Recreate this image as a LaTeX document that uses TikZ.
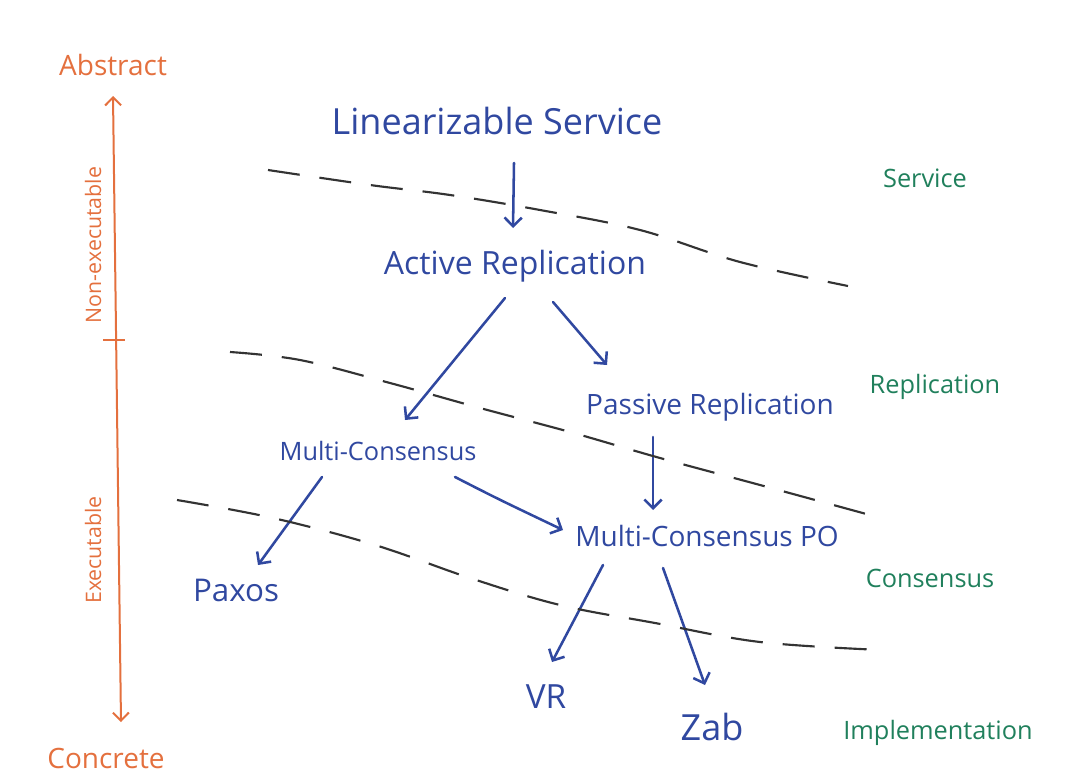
\documentclass[tikz,border=0pt]{standalone}
\usepackage{fontspec}
\setmainfont{Open Sans}
\usetikzlibrary{arrows.meta,calc}
\definecolor{inkblue}{RGB}{48,72,160}
\definecolor{inkorange}{RGB}{228,112,62}
\definecolor{inkgreen}{RGB}{32,128,92}
\tikzset{
  concept/.style={text=inkblue,inner sep=1pt},
  layer/.style={text=inkgreen,inner sep=1pt,font=\fontsize{19}{21}\selectfont},
  axislabel/.style={text=inkorange,inner sep=1pt,font=\fontsize{21}{23}\selectfont},
  sidelabel/.style={text=inkorange,inner sep=1pt,font=\fontsize{16}{18}\selectfont,rotate=90},
  link/.style={draw=inkblue,line width=1.9pt,line cap=round,-{Straight Barb[length=6.5pt,width=13pt]}},
  border/.style={draw=black!80,line width=1.6pt,dash pattern=on 24pt off 15pt}
}
\begin{document}
\begin{tikzpicture}[x=0.75pt,y=-0.75pt]
\useasboundingbox (0,0) rectangle (1080,774);
% axis
\node[axislabel] (abs) at (113,65) {Abstract};
\node[axislabel] (con) at (106,758) {Concrete};
\coordinate (axtop) at (113,96);
\coordinate (axbot) at (121,722);
\coordinate (tickl) at (103,340);
\coordinate (tickr) at (125,340);
\draw[draw=inkorange,line width=1.5pt,{Straight Barb[length=6pt,width=12pt]}-{Straight Barb[length=6pt,width=12pt]}] (axtop) -- (axbot);
\draw[draw=inkorange,line width=1.5pt] (tickl) -- (tickr);
\node[sidelabel] (nonex) at (93,245) {Non-executable};
\node[sidelabel] (ex) at (93,550) {Executable};
% concepts
\node[concept,font=\fontsize{27}{29}\selectfont] (ls) at (497,121) {Linearizable Service};
\node[concept,font=\fontsize{24}{26}\selectfont] (ar) at (515,266) {Active Replication};
\node[concept,font=\fontsize{21}{23}\selectfont] (pr) at (710,407) {Passive Replication};
\node[concept,font=\fontsize{19}{21}\selectfont] (mc) at (378,451) {Multi-Consensus};
\node[concept,font=\fontsize{21}{23}\selectfont] (mcpo) at (707,536) {Multi-Consensus PO};
\node[concept,font=\fontsize{23.5}{25}\selectfont] (paxos) at (236,590) {Paxos};
\node[concept,font=\fontsize{25}{27}\selectfont] (vr) at (546,697) {VR};
\node[concept,font=\fontsize{27}{29}\selectfont] (zab) at (712,727) {Zab};
% links
\draw[link] ($(ls)+(17,42)$) -- ($(ar)+(-2,-38)$);
\draw[link] ($(ar)+(-10,32)$) -- ($(mc)+(27,-31)$);
\draw[link] ($(ar)+(38,36)$) -- ($(pr)+(-103,-42)$);
\draw[link] ($(pr)+(-57,30)$) -- ($(mcpo)+(-54,-26)$);
\draw[link] ($(mc)+(77,26)$) .. controls ($(mc)+(120,48)$) .. ($(mcpo)+(-144,-6)$);
\draw[link] ($(mc)+(-56,26)$) -- ($(paxos)+(22,-25)$);
\draw[link] ($(mcpo)+(-104,29)$) -- ($(vr)+(6,-35)$);
\draw[link] ($(mcpo)+(-44,32)$) -- ($(zab)+(-7,-42)$);
% layer boundaries
\coordinate (d1a) at (268,170);
\coordinate (d1b) at (848,286);
\coordinate (d2a) at (230,352);
\coordinate (d2b) at (870,515);
\coordinate (d3a) at (177,500);
\coordinate (d3b) at (882,650);
\draw[border] plot[smooth,tension=0.6] coordinates {(d1a) (370,185) (450,195) (540,210) (640,230) (740,262) (d1b)};
\draw[border] plot[smooth,tension=0.6] coordinates {(d2a) (300,360) (390,383) (480,408) (570,432) (660,458) (760,485) (d2b)};
\draw[border] plot[smooth,tension=0.6] coordinates {(d3a) (273,518) (375,545) (470,578) (560,605) (655,623) (760,642) (d3b)};
% layer labels
\node[layer] (lsvc) at (925,178) {Service};
\node[layer] (lrep) at (935,387) {Replication};
\node[layer] (lcon) at (930,578) {Consensus};
\node[layer] (limp) at (938,733) {Implementation};
\end{tikzpicture}
\end{document}
